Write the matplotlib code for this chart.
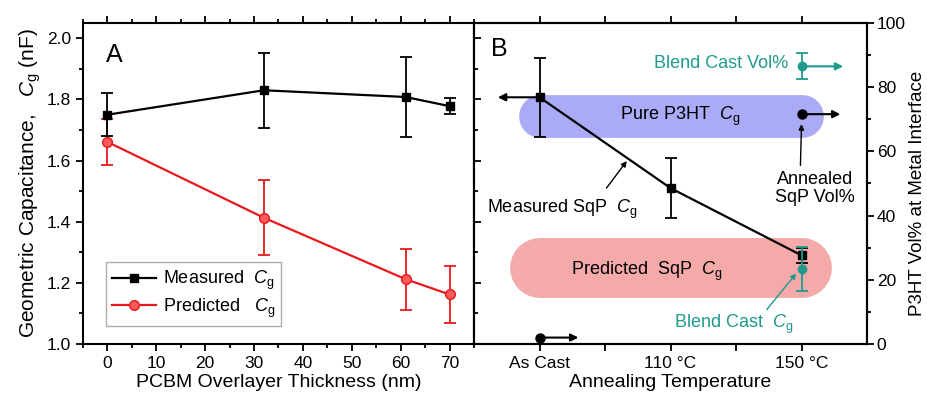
import matplotlib
matplotlib.use("Agg")
import matplotlib.pyplot as plt
from matplotlib.ticker import MultipleLocator, FixedLocator
from matplotlib.transforms import offset_copy

plt.rcParams["font.family"] = ["Liberation Sans", "DejaVu Sans"]
plt.rcParams["mathtext.fontset"] = "custom"
plt.rcParams["mathtext.rm"] = "Liberation Sans"
plt.rcParams["mathtext.it"] = "Liberation Sans:italic"

# panel A: capacitance vs PCBM overlayer thickness
thickness = [0, 32, 61, 70]
measured_cg = [1.75, 1.83, 1.808, 1.778]
measured_err = [0.07, 0.123, 0.13, 0.027]
predicted_cg = [1.661, 1.413, 1.212, 1.162]
predicted_err = [0.075, 0.123, 0.10, 0.094]

# panel B: annealing series
anneal_labels = ["As Cast", "110 °C", "150 °C"]
anneal_pos = [0, 1, 2]
sqp_cg = [1.807, 1.51, 1.29]
sqp_err = [0.13, 0.097, 0.025]
pure_band = (1.745, 0.07)        # centre, half height (nF)
predicted_band = (1.248, 0.098)
sqp_vol = [2, 71.6]              # As Cast, 150 °C  (P3HT vol%)
sqp_vol_pos = [0, 2]
blend_vol, blend_vol_err = 86.5, 4.0
blend_cg, blend_cg_err = 1.245, 0.072

TEAL = "#1f9a8d"
BLUE = "#aaaaf6"
PINK = "#f5aaaa"

fig = plt.figure(figsize=(9.28, 3.98), dpi=100)
ax_a = fig.add_axes([0.0894, 0.1357, 0.4214, 0.8065])
ax_b = fig.add_axes([0.5108, 0.1357, 0.4235, 0.8065])
ax_r = ax_b.twinx()

for ax in (ax_a, ax_b, ax_r):
    for s in ax.spines.values():
        s.set_linewidth(1.5)

# ---- panel A
eb_m = ax_a.errorbar(thickness, measured_cg, yerr=measured_err, color="black", lw=1.6,
                     marker="s", ms=6, capsize=4, elinewidth=1.3, capthick=1.3, zorder=3)
eb_p = ax_a.errorbar(thickness, predicted_cg, yerr=predicted_err, color="#e8191c", lw=1.6,
                     marker="o", ms=7, mfc="#ff5a5a", mec="#e8191c", capsize=4,
                     elinewidth=1.3, capthick=1.3, zorder=2)
ax_a.set_xlim(-5, 75)
ax_a.set_ylim(1.0, 2.05)
ax_a.xaxis.set_major_locator(MultipleLocator(10))
ax_a.xaxis.set_minor_locator(MultipleLocator(5))
ax_a.yaxis.set_major_locator(MultipleLocator(0.2))
ax_a.yaxis.set_minor_locator(MultipleLocator(0.1))
ax_a.yaxis.set_major_formatter(plt.FuncFormatter(lambda v, p: f"{v:.1f}"))
ax_a.tick_params(which="both", top=True, right=True, labelsize=12.5, width=1.3)
ax_a.tick_params(which="major", length=5)
ax_a.tick_params(which="minor", length=3)
ax_a.set_xlabel("PCBM Overlayer Thickness (nm)", fontsize=14, labelpad=2)
ax_a.set_ylabel(r"Geometric Capacitance,   $C_{\rm g}$ (nF)", fontsize=15, labelpad=3)
ax_a.text(0.06, 0.90, "A", transform=ax_a.transAxes, fontsize=18, va="center")
leg = ax_a.legend([eb_m.lines[0], eb_p.lines[0]],
                  [r"Measured  $C_{\rm g}$", r"Predicted   $C_{\rm g}$"],
                  loc="lower left", bbox_to_anchor=(0.059, 0.056), borderaxespad=0,
                  fontsize=13, frameon=True, fancybox=False, edgecolor="#999999",
                  handlelength=2.4, borderpad=0.35, labelspacing=0.25, handletextpad=0.4)
leg.get_frame().set_linewidth(1.0)

# ---- panel B
ax_b.set_xlim(-0.5, 2.5)
ax_b.set_ylim(1.0, 2.05)
ax_r.set_ylim(0, 100)
fig.canvas.draw()


def band_width(ax, half):
    y0 = ax.transData.transform((0, 1.5 - half))[1]
    y1 = ax.transData.transform((0, 1.5 + half))[1]
    return (y1 - y0) * 72 / fig.dpi


ax_b.plot([anneal_pos[0], anneal_pos[-1]], [pure_band[0]] * 2, color=BLUE,
          lw=band_width(ax_b, pure_band[1]), solid_capstyle="round", zorder=0)
ax_b.plot([anneal_pos[0], anneal_pos[-1]], [predicted_band[0]] * 2, color=PINK,
          lw=band_width(ax_b, predicted_band[1]), solid_capstyle="round", zorder=0)

ax_b.errorbar(anneal_pos, sqp_cg, yerr=sqp_err, color="black", lw=1.6, marker="s",
              ms=6, capsize=4, elinewidth=1.3, capthick=1.3, zorder=3)
ax_b.errorbar([anneal_pos[2]], [blend_cg], yerr=[blend_cg_err], color=TEAL, marker="o",
              ms=6, capsize=4, elinewidth=1.3, capthick=1.3, zorder=4)
ax_r.errorbar([anneal_pos[2]], [blend_vol], yerr=[blend_vol_err], color=TEAL, marker="o",
              ms=6, capsize=4, elinewidth=1.3, capthick=1.3, zorder=4)
ax_r.plot(sqp_vol_pos, sqp_vol, "o", color="black", ms=6.5, ls="none", zorder=4)


def side_arrow(ax, x, y, dx, color):
    tr = offset_copy(ax.transData, fig=fig, x=dx, y=0, units="points")
    ax.annotate("", xy=(x, y), xycoords=tr, xytext=(x, y), textcoords="data",
                arrowprops=dict(arrowstyle="-|>", color=color, lw=1.5,
                                mutation_scale=11, shrinkA=0, shrinkB=0), zorder=5)


side_arrow(ax_b, anneal_pos[0], sqp_cg[0], -30, "black")
side_arrow(ax_r, sqp_vol_pos[0], sqp_vol[0], 28, "black")
side_arrow(ax_r, sqp_vol_pos[1], sqp_vol[1], 28, "black")
side_arrow(ax_r, anneal_pos[2], blend_vol, 30, TEAL)

ax_r.text(-0.37, 92, "B", fontsize=18, va="center", ha="left")
ax_r.text(1.90, 87.5, "Blend Cast Vol%", color=TEAL, fontsize=13, ha="right", va="center")
ax_r.text(1.07, 71, r"Pure P3HT  $C_{\rm g}$", fontsize=13, ha="center", va="center")
ax_r.text(0.82, 22.7, r"Predicted  SqP  $C_{\rm g}$", fontsize=13, ha="center", va="center")
ax_r.annotate(r"Measured SqP  $C_{\rm g}$", xy=(0.666, 57), xytext=(0.17, 42),
              fontsize=13, ha="center", va="center",
              arrowprops=dict(arrowstyle="-|>", lw=1.0, color="black",
                              mutation_scale=8, shrinkA=6, shrinkB=0,
                              relpos=(0.75, 1.0)))
ax_r.annotate("Annealed\nSqP Vol%", xy=(2, 68.5), xytext=(2.10, 48.5),
              fontsize=13, ha="center", va="center", linespacing=1.05,
              arrowprops=dict(arrowstyle="-|>", lw=1.0, color="black",
                              mutation_scale=8, shrinkA=2, shrinkB=0,
                              relpos=(0.32, 1.0)))
ax_r.annotate(r"Blend Cast  $C_{\rm g}$", xy=(1.96, 22), xytext=(1.48, 6.2),
              fontsize=13, ha="center", va="center", color=TEAL,
              arrowprops=dict(arrowstyle="-|>", lw=1.0, color=TEAL,
                              mutation_scale=8, shrinkA=0, shrinkB=0,
                              relpos=(0.76, 1.0)))

ax_b.xaxis.set_major_locator(FixedLocator(anneal_pos))
ax_b.xaxis.set_minor_locator(FixedLocator([0.5, 1.5]))
ax_b.set_xticklabels(anneal_labels)
ax_b.yaxis.set_major_locator(MultipleLocator(0.2))
ax_b.yaxis.set_minor_locator(MultipleLocator(0.1))
ax_b.tick_params(axis="y", which="both", direction="in", labelleft=False, width=1.3)
ax_b.tick_params(axis="y", which="major", length=5)
ax_b.tick_params(axis="y", which="minor", length=3)
ax_b.tick_params(axis="x", which="both", top=True, labelsize=12.5, width=1.3)
ax_b.tick_params(axis="x", which="major", length=5)
ax_b.tick_params(axis="x", which="minor", length=5)
ax_b.set_xlabel("Annealing Temperature", fontsize=14, labelpad=2)

ax_r.yaxis.set_major_locator(MultipleLocator(20))
ax_r.yaxis.set_minor_locator(MultipleLocator(10))
ax_r.tick_params(axis="y", which="both", labelsize=12.5, width=1.3, pad=2)
ax_r.tick_params(axis="y", which="major", length=5)
ax_r.tick_params(axis="y", which="minor", length=3)
ax_r.set_ylabel("P3HT Vol% at Metal Interface", fontsize=13.5, labelpad=6)
ax_r.yaxis.set_label_coords(1.108, 0.47)

fig.savefig("out.png", dpi=100)
